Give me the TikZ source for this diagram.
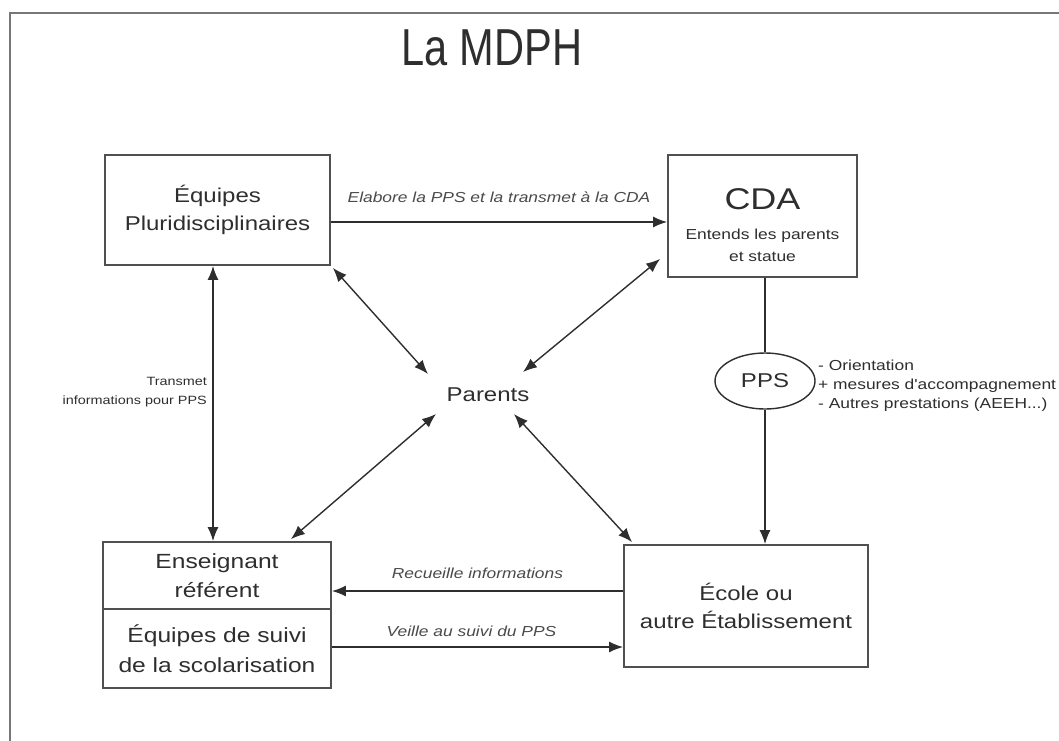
\documentclass[tikz,border=0pt]{standalone}
\usepackage{fontspec}
\setmainfont{Liberation Sans}
\newfontfamily\wf{Liberation Sans}[FakeStretch=1.2]
\newfontfamily\tf{Liberation Sans}[FakeStretch=0.8]
\usetikzlibrary{arrows.meta,shapes.geometric}
\definecolor{ink}{HTML}{2E2E2E}
\definecolor{boxline}{HTML}{505050}
\definecolor{lblc}{HTML}{4A4A4A}
\definecolor{framec}{HTML}{777777}
\tikzset{
  box/.style={draw=boxline, line width=1.8pt, align=center, text=ink, inner sep=0pt, font=\wf\fontsize{20}{28}\selectfont},
  arr/.style={draw=ink, line width=1.4pt, -{Latex[length=14pt,width=11pt]}},
  darr/.style={draw=ink, line width=1.4pt, {Latex[length=14pt,width=11pt]}-{Latex[length=14pt,width=11pt]}},
  lbl/.style={text=lblc, inner sep=0pt, font=\wf\itshape\fontsize{14.5}{17}\selectfont},
  small/.style={text=ink, inner sep=0pt, align=right, font=\wf\fontsize{12}{19}\selectfont},
}
\begin{document}
\begin{tikzpicture}[x=1pt,y=-1pt]
\useasboundingbox (0,0) rectangle (1059,740);
\begin{scope}
\clip (0,0) rectangle (1059,740);
\draw[framec, line width=2pt] (10,760) -- (10,13) -- (1080,13);
\end{scope}
% title
\node[text=ink, inner sep=0pt, font=\tf\fontsize{52}{60}\selectfont] (title) at (492,48) {La MDPH};
% boxes
\node[box, minimum width=225pt, minimum height=110pt] (eq) at (217.5,210) {Équipes\\Pluridisciplinaires};
\node[box, minimum width=189pt, minimum height=122pt] (cda) at (762.5,216) {};
\node[text=ink, inner sep=0pt, align=center, font=\wf\fontsize{30}{30}\selectfont] (cdat) at (762.5,225)
  {CDA\\[0pt]\fontsize{14.5}{22}\selectfont Entends les parents\\[-8pt]\fontsize{14.5}{22}\selectfont et statue};
\node[box, minimum width=228pt, minimum height=67pt, font=\wf\fontsize{20.5}{29}\selectfont] (ens) at (217,575.5) {Enseignant\\référent};
\node[box, minimum width=228pt, minimum height=79pt, font=\wf\fontsize{20.5}{30}\selectfont] (suivi) at (217,648.5) {Équipes de suivi\\de la scolarisation};
\node[box, minimum width=244pt, minimum height=122pt] (ecole) at (746,606) {École ou\\autre Établissement};
\node[draw=ink, line width=1.4pt, ellipse, minimum width=100pt, minimum height=56pt, inner sep=0pt, text=ink, font=\wf\fontsize{20}{24}\selectfont] (pps) at (765,381) {PPS};
\node[text=ink, inner sep=0pt, font=\wf\fontsize{20}{24}\selectfont] (parents) at (488,395) {Parents};
% PPS list
\node[anchor=west, text=ink, inner sep=0pt, align=left, font=\wf\fontsize{14.5}{19}\selectfont] (list) at (818,386)
  {- Orientation\\+ mesures d'accompagnement\\- Autres prestations (AEEH...)};
% connectors
\draw[arr] ([yshift=-12pt]eq.east) -- ([yshift=-6pt]cda.west)
  node[lbl, midway, yshift=25pt] (l1) {Elabore la PPS et la transmet à la CDA};
\draw[draw=ink, line width=1.4pt] (pps.north |- cda.south) -- (pps.north);
\draw[arr] (pps.south) -- (pps.south |- ecole.north);
\draw[arr] ([yshift=15pt]ecole.west) -- ([yshift=-15.5pt]ens.east)
  node[lbl, midway, yshift=18pt] (l2) {Recueille informations};
\draw[arr] ([yshift=1.5pt]suivi.east) -- ([yshift=-41pt]ecole.west)
  node[lbl, midway, yshift=16pt, xshift=-6pt] (l3) {Veille au suivi du PPS};
\draw[darr] ([xshift=-4.5pt]eq.south) -- ([xshift=-4pt]ens.north);
\node[small, anchor=east] (l4) at (207,392) {Transmet\\informations pour PPS};
% diagonals to Parents
\coordinate (pa) at (428,374);
\coordinate (pb) at (523,372);
\coordinate (pc) at (436,414);
\coordinate (pd) at (514,414);
\draw[darr] ([xshift=2pt,yshift=-2pt]eq.south east) -- (pa);
\draw[darr] ([xshift=-7pt,yshift=19pt]cda.south west) -- (pb);
\draw[darr] ([xshift=-41pt,yshift=2pt]ens.north east) -- (pc);
\draw[darr] ([xshift=9pt,yshift=2pt]ecole.north west) -- (pd);
\end{tikzpicture}
\end{document}
